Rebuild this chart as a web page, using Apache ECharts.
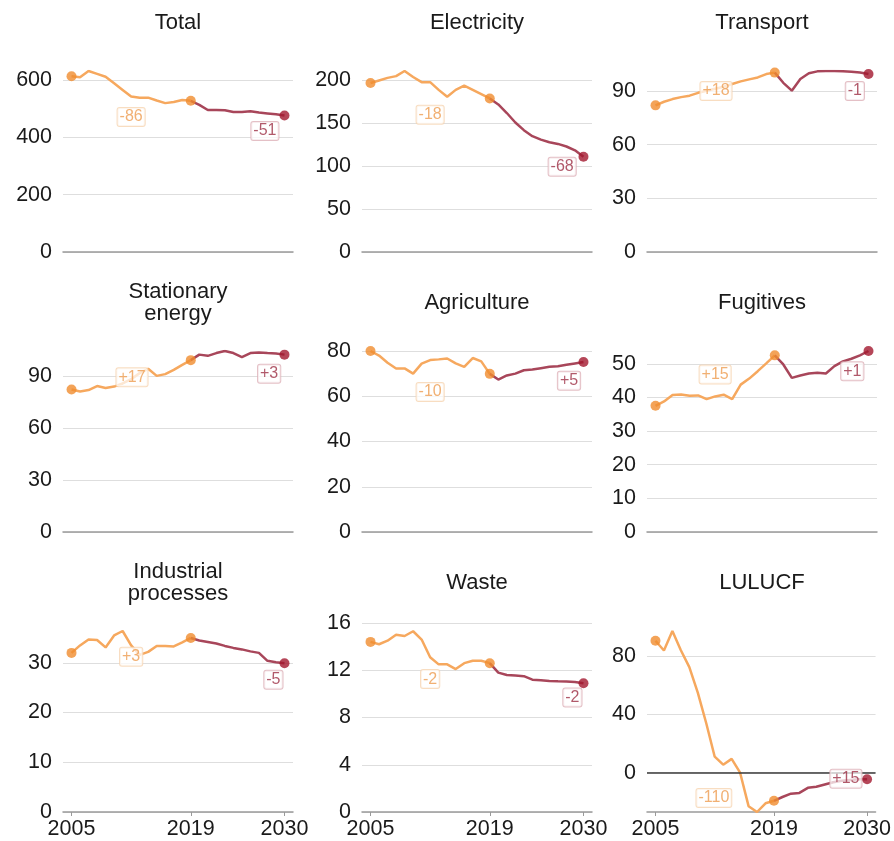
<!DOCTYPE html>
<html>
<head>
<meta charset="utf-8">
<script src="https://cdn.jsdelivr.net/npm/echarts@6/dist/echarts.min.js"></script>
<style>
  html, body { margin: 0; padding: 0; background: #fff; }
  #chart { width: 894px; height: 841px; }
</style>
</head>
<body>
<div id="chart"></div>
<script>
// years: history runs 2005-2019, projection 2019-2030
const histYears = [2005, 2006, 2007, 2008, 2009, 2010, 2011, 2012, 2013, 2014, 2015, 2016, 2017, 2018, 2019]
const projYears = [2019, 2020, 2021, 2022, 2023, 2024, 2025, 2026, 2027, 2028, 2029, 2030]
const xTickYears = [2005, 2019, 2030]

const panelNames = ['Total', 'Electricity', 'Transport', 'Stationary\nenergy', 'Agriculture', 'Fugitives', 'Industrial\nprocesses', 'Waste', 'LULUCF']

const totalHist = [613, 609, 631, 621, 611, 588, 565, 542, 538, 538, 528, 519, 523, 530, 527]
const totalProj = [527, 513, 495, 495, 494, 488, 488, 491, 486, 483, 480, 476]
const electricityHist = [197, 200, 203, 205, 211, 204, 198, 198, 189, 181, 189, 194, 189, 184, 179]
const electricityProj = [179, 172, 162, 151, 142, 135, 131, 128, 126, 123, 118.5, 111]
const transportHist = [82, 84, 85.5, 86.6, 87.4, 89, 90.2, 91.3, 92.4, 93.9, 95.4, 96.5, 97.6, 99.5, 100.3]
const transportProj = [100.3, 94.6, 90.2, 96.7, 99.9, 101, 101.2, 101.2, 101, 100.8, 100.4, 99.5]
const stationaryHist = [82.5, 81.4, 82.2, 84.5, 83.4, 84.2, 86, 88.5, 92, 94.5, 90.4, 91.4, 93.9, 96.8, 99.5]
const stationaryProj = [99.5, 102.7, 102, 103.6, 104.8, 103.6, 101.3, 103.6, 104, 103.6, 103.3, 102.7]
const agricultureHist = [80, 78, 74.8, 72.3, 72.3, 70, 74.4, 76, 76.3, 76.7, 74.5, 73, 76.9, 75.4, 69.9]
const agricultureProj = [69.9, 67.4, 69.2, 70, 71.5, 71.8, 72.4, 73, 73.3, 73.9, 74.5, 75.1]
const fugitivesHist = [37.5, 38.8, 40.7, 40.9, 40.5, 40.6, 39.5, 40.3, 40.8, 39.5, 43.8, 45.6, 47.8, 50.1, 52.5]
const fugitivesProj = [52.5, 49.8, 45.8, 46.5, 47.1, 47.3, 47.1, 49.3, 50.7, 51.5, 52.5, 53.8]
const industrialHist = [32, 33.5, 34.7, 34.6, 33.1, 35.5, 36.4, 33.5, 31.6, 32.2, 33.4, 33.4, 33.3, 34.1, 35]
const industrialProj = [35, 34.5, 34.2, 33.9, 33.4, 33, 32.7, 32.3, 32, 30.4, 30.1, 29.9]
const wasteHist = [14.4, 14.2, 14.5, 15, 14.9, 15.3, 14.6, 13.1, 12.5, 12.5, 12.1, 12.6, 12.8, 12.8, 12.6]
const wasteProj = [12.6, 11.8, 11.6, 11.55, 11.5, 11.2, 11.15, 11.1, 11.07, 11.05, 11, 10.9]
const lulucfHist = [90.7, 84, 97.4, 84.2, 72.6, 55, 34, 11, 5.5, 9.5, 0, -23, -27, -21, -19.3]
const lulucfProj = [-19.3, -16.7, -14.4, -13.9, -10.4, -9.7, -8.1, -6.5, -5.5, -5, -4.5, -4.5]

const histSeries = [totalHist, electricityHist, transportHist, stationaryHist, agricultureHist, fugitivesHist, industrialHist, wasteHist, lulucfHist]
const projSeries = [totalProj, electricityProj, transportProj, stationaryProj, agricultureProj, fugitivesProj, industrialProj, wasteProj, lulucfProj]

// y tick labels for each panel
const yTicks = [
  [0, 200, 400, 600],
  [0, 50, 100, 150, 200],
  [0, 30, 60, 90],
  [0, 30, 60, 90],
  [0, 20, 40, 60, 80],
  [0, 10, 20, 30, 40, 50],
  [0, 10, 20, 30],
  [0, 4, 8, 12, 16],
  [0, 40, 80],
]

// change labels (history, projection)
const changeHist = ['-86', '-18', '+18', '+17', '-10', '+15', '+3', '-2', '-110']
const changeProj = ['-51', '-68', '-1', '+3', '+5', '+1', '-5', '-2', '+15']
// where the change labels sit, in [year, value]
const histLabelAt = [[2012, 471], [2012, 160], [2012.1, 90], [2012.1, 89.6], [2012, 61.9], [2012, 46.8], [2012, 31.2], [2012, 11.25], [2011.9, -17.4]]
const projLabelAt = [[2027.7, 422], [2027.5, 99.4], [2028.4, 90], [2028.2, 91.7], [2028.3, 66.9], [2028.1, 47.8], [2028.7, 26.6], [2028.7, 9.7], [2027.5, -4.2]]

const FONT = '"Liberation Sans", Arial, Helvetica, sans-serif'
const HIST_LINE = '#F6A85E'
const PROJ_LINE = '#A8465A'
const HIST_DOT = '#F08C2E'
const PROJ_DOT = '#A3182E'

const colLeft = [63, 362, 647]
const rowTop = [71, 351, 631]
const rowBottom = [252, 532, 812]
const gridW = 230

const chart = echarts.init(document.getElementById('chart'))

const option = {
  animation: false,
  textStyle: { fontFamily: FONT },
  grid: [],
  xAxis: [],
  yAxis: [],
  series: [],
  graphic: [],
}

panelNames.forEach((name, i) => {
  const col = i % 3
  const row = Math.floor(i / 3)
  const hist = histSeries[i]
  const proj = projSeries[i]
  const ticks = yTicks[i]
  const dataMax = Math.max(...hist, ...proj)
  const topTick = ticks[ticks.length - 1]
  const hasNegative = Math.min(...hist, ...proj) < 0

  // if the top tick sits above the data, the panel grows upwards a little
  let top = rowTop[row]
  if (topTick > dataMax) {
    const h = (rowBottom[row] - rowTop[row]) * topTick / dataMax
    top = Math.round(rowBottom[row] - h)
  }

  option.grid.push({ left: colLeft[col], top: top, width: gridW, height: rowBottom[row] - top })

  option.graphic.push({
    type: 'text',
    x: colLeft[col] + gridW / 2,
    y: rowTop[row] - 48,
    style: {
      text: name,
      fontSize: 22,
      lineHeight: 22,
      fontFamily: FONT,
      fill: '#1a1a1a',
      align: 'center',
      verticalAlign: 'middle',
    },
  })

  option.xAxis.push({
    type: 'value',
    gridIndex: i,
    min: 2004,
    max: 2031,
    axisLine: { onZero: false, lineStyle: { color: '#9a9a9a', width: 1.5 } },
    axisTick: { show: row === 2, customValues: xTickYears, length: 4, lineStyle: { color: '#9a9a9a' } },
    axisLabel: {
      show: row === 2,
      customValues: xTickYears,
      formatter: v => String(v),
      fontSize: 21.5,
      color: '#1a1a1a',
      margin: 6,
    },
    splitLine: { show: false },
  })

  option.yAxis.push({
    type: 'value',
    gridIndex: i,
    min: hasNegative ? 'dataMin' : 0,
    max: v => Math.max(v.max, topTick),
    axisLine: { show: false },
    axisTick: { show: false, customValues: ticks },
    axisLabel: { customValues: ticks, fontSize: 21.5, color: '#1a1a1a', margin: 11 },
    splitLine: { show: true, lineStyle: { color: '#dedede', width: 1 } },
  })

  const histLine = {
    type: 'line',
    xAxisIndex: i,
    yAxisIndex: i,
    data: histYears.map((y, k) => [y, hist[k]]),
    symbol: 'none',
    lineStyle: { color: HIST_LINE, width: 2.5 },
    z: 3,
  }
  if (hasNegative) {
    // zero line for the panel that goes below 0
    histLine.markLine = {
      silent: true,
      symbol: 'none',
      label: { show: false },
      lineStyle: { color: '#3a3a3a', width: 1.5, type: 'solid' },
      data: [{ yAxis: 0 }],
    }
  }
  option.series.push(histLine)

  option.series.push({
    type: 'line',
    xAxisIndex: i,
    yAxisIndex: i,
    data: projYears.map((y, k) => [y, proj[k]]),
    symbol: 'none',
    lineStyle: { color: PROJ_LINE, width: 2.5 },
    z: 3,
  })

  // end points
  option.series.push({
    type: 'scatter',
    xAxisIndex: i,
    yAxisIndex: i,
    symbolSize: 10,
    z: 4,
    data: [
      { value: [histYears[0], hist[0]], itemStyle: { color: HIST_DOT } },
      { value: [histYears[histYears.length - 1], hist[hist.length - 1]], itemStyle: { color: HIST_DOT } },
      { value: [projYears[projYears.length - 1], proj[proj.length - 1]], itemStyle: { color: PROJ_DOT } },
    ],
  })

  // change labels
  const labelStyle = (txt, color, border) => ({
    show: true,
    position: 'inside',
    formatter: txt,
    fontSize: 16,
    color: color,
    backgroundColor: 'rgba(255,255,255,0.9)',
    borderColor: border,
    borderWidth: 1,
    borderRadius: 2,
    padding: [2, 2, 0, 2],
  })
  option.series.push({
    type: 'scatter',
    xAxisIndex: i,
    yAxisIndex: i,
    symbolSize: 1,
    itemStyle: { color: 'rgba(0,0,0,0)' },
    z: 5,
    data: [
      { value: histLabelAt[i], label: labelStyle(changeHist[i], '#EE9C50', '#F6D4B2') },
      { value: projLabelAt[i], label: labelStyle(changeProj[i], '#9E2F45', '#DDB0B8') },
    ],
  })
})

chart.setOption(option)
</script>
</body>
</html>
